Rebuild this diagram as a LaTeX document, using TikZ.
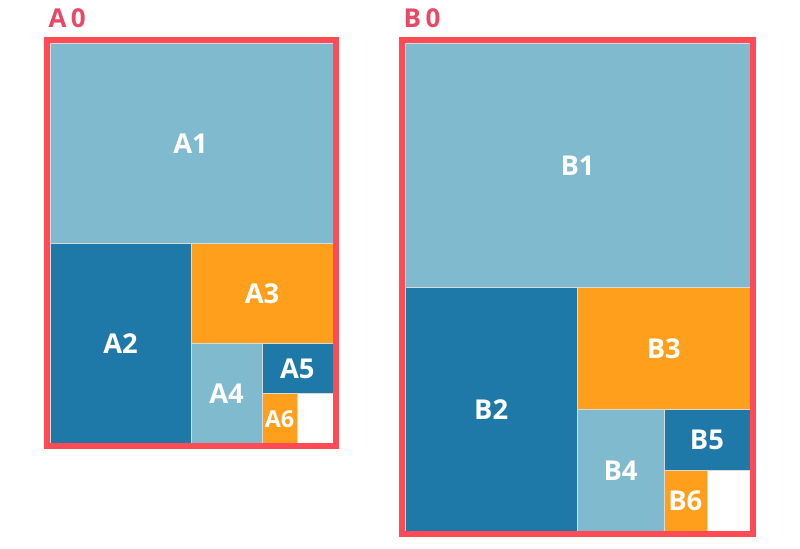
\documentclass[tikz,border=0pt]{standalone}
\usepackage{fontspec}
\setmainfont{Open Sans}
\definecolor{azulclaro}{HTML}{80BACE}
\definecolor{azuloscuro}{HTML}{1F79A8}
\definecolor{naranja}{HTML}{FF9F1C}
\definecolor{rojomarco}{HTML}{FF4B55}
\definecolor{rojotitulo}{HTML}{E84A66}
\tikzset{
  hoja/.style={draw=white!85!black, line width=0.15pt},
  marco/.style={draw=rojomarco, line width=4.3pt},
  etiqueta/.style={text=white, font=\bfseries\fontsize{20.5}{20.5}\selectfont},
  titulo/.style={text=rojotitulo, font=\bfseries\fontsize{19.5}{19.5}\selectfont, anchor=west}
}
\begin{document}
\begin{tikzpicture}[x=0.75pt, y=-0.75pt]
    \useasboundingbox (0,0) rectangle (800,549);

    % ---- Serie A (izquierda) ----
    \filldraw[hoja, fill=azulclaro]  (50,42.7)    rectangle (332.7,242.7);
    \filldraw[hoja, fill=azuloscuro] (50,242.7)   rectangle (191.3,442.7);
    \filldraw[hoja, fill=naranja]    (191.3,242.7) rectangle (332.7,342.7);
    \filldraw[hoja, fill=azulclaro]  (191.3,342.7) rectangle (262,442.7);
    \filldraw[hoja, fill=azuloscuro] (262,342.7)  rectangle (332.7,392.7);
    \filldraw[hoja, fill=naranja]    (262,392.7)  rectangle (297.3,442.7);
    \draw[marco] (47,40) rectangle (335.7,445.7);

    \node[titulo] (a0) at (44,18.5) {A\,0};
    \node[etiqueta] (a1) at (190.5,143.5) {A1};
    \node[etiqueta] (a2) at (120.6,343.5) {A2};
    \node[etiqueta] (a3) at (262,293.5) {A3};
    \node[etiqueta] (a4) at (226.6,393.5) {A4};
    \node[etiqueta] (a5) at (297.3,368.5) {A5};
    \node[etiqueta, font=\bfseries\fontsize{17.5}{17.5}\selectfont] (a6) at (279.6,419.5) {A6};

    % ---- Serie B (derecha) ----
    \filldraw[hoja, fill=azulclaro]  (405,42.7)    rectangle (750,286.7);
    \filldraw[hoja, fill=azuloscuro] (405,286.7)   rectangle (577.5,530.7);
    \filldraw[hoja, fill=naranja]    (577.5,286.7) rectangle (750,408.7);
    \filldraw[hoja, fill=azulclaro]  (577.5,408.7) rectangle (663.8,530.7);
    \filldraw[hoja, fill=azuloscuro] (663.8,408.7) rectangle (750,469.7);
    \filldraw[hoja, fill=naranja]    (663.8,469.7) rectangle (706.9,530.7);
    \draw[marco] (402,40) rectangle (753,533.7);

    \node[titulo] (b0) at (399,18.5) {B\,0};
    \node[etiqueta] (b1) at (577.5,165.5) {B1};
    \node[etiqueta] (b2) at (491.2,409.5) {B2};
    \node[etiqueta] (b3) at (663.8,348.5) {B3};
    \node[etiqueta] (b4) at (620.6,470.5) {B4};
    \node[etiqueta] (b5) at (706.9,439.5) {B5};
    \node[etiqueta] (b6) at (685.3,500.5) {B6};
\end{tikzpicture}
\end{document}
